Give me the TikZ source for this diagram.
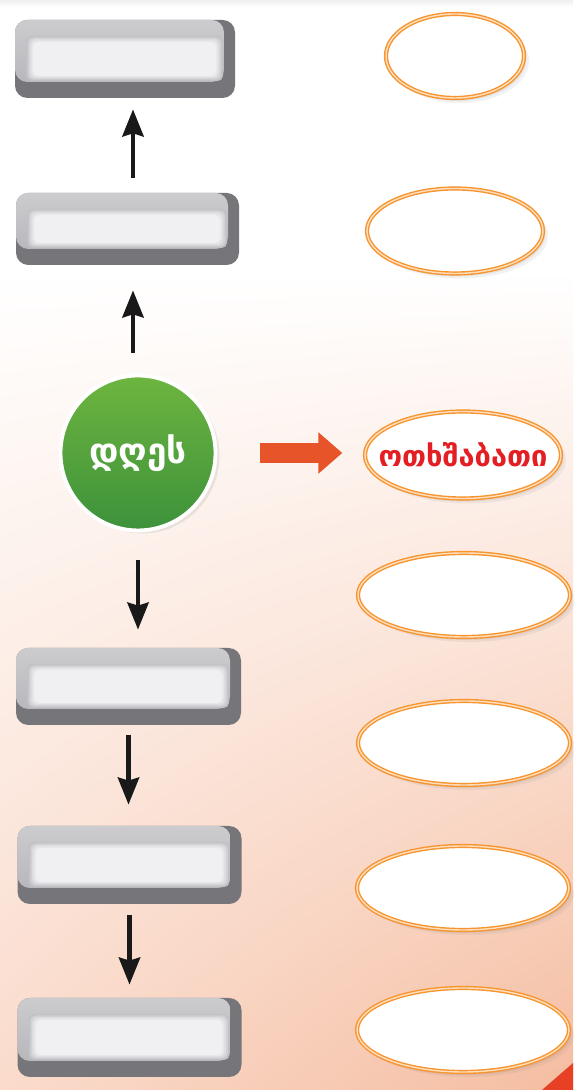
\documentclass[tikz,border=0pt]{standalone}
\usepackage{fontspec}
\newfontfamily\geofont{DejaVu Sans}
\usetikzlibrary{arrows.meta, positioning, calc, shapes.geometric, shadows, shadings}
\definecolor{BoxTop}{rgb}{0.80, 0.80, 0.81}
\definecolor{BoxMid}{rgb}{0.70, 0.70, 0.72}
\definecolor{BoxDark}{rgb}{0.46, 0.46, 0.48}
\definecolor{BoxLight}{rgb}{0.94, 0.94, 0.95}
\definecolor{OvalOrange}{rgb}{0.97, 0.58, 0.18}
\definecolor{DayGreen}{rgb}{0.43, 0.71, 0.25}
\definecolor{DayGreenDark}{rgb}{0.24, 0.57, 0.23}
\definecolor{ArrowRed}{rgb}{0.91, 0.33, 0.16}
\definecolor{WedRed}{rgb}{0.89, 0.12, 0.14}
\definecolor{PeachLight}{rgb}{0.98, 0.86, 0.80}
\definecolor{PeachDark}{rgb}{0.96, 0.74, 0.63}
\definecolor{CornerRed}{rgb}{0.91, 0.25, 0.14}

\tikzset{
  greybox/.style={rectangle, rounded corners=7pt, minimum width=4.48cm, minimum height=1.56cm,
    inner sep=0pt, fill=BoxDark,
    path picture={
      \shade[top color=BoxTop, bottom color=BoxMid]
        ($(path picture bounding box.south west)+(0,0.32)$) rectangle
        ($(path picture bounding box.north east)+(-0.22,0)$);
      \foreach \k/\c in {0/25,1/50,2/70,3/85,4/100}
        \fill[BoxLight!\c!BoxMid, rounded corners=3pt]
          ($(path picture bounding box.south west)+(0.22+0.035*\k,0.34+0.025*\k)$) rectangle
          ($(path picture bounding box.north east)+(-0.24-0.035*\k,-0.32-0.03*\k)$);
    }},
  ovalbox/.style={ellipse, minimum width=4.24cm, minimum height=1.68cm, inner sep=0pt,
    draw=OvalOrange, line width=0.8pt, double=OvalOrange!30!white, double distance=0.8pt,
    fill=white,
    drop shadow={shadow xshift=1.0mm, shadow yshift=-1.0mm, opacity=0.10},
    drop shadow={shadow xshift=0.5mm, shadow yshift=-0.6mm, opacity=0.12}},
  daynode/.style={circle, minimum size=3.1cm, inner sep=0pt, top color=DayGreen,
    bottom color=DayGreenDark, draw=white, line width=2.2pt,
    drop shadow={shadow xshift=0.8mm, shadow yshift=-0.6mm, opacity=0.15},
    text=white, font=\geofont\bfseries\fontsize{20}{24}\selectfont},
  wedlabel/.style={text=WedRed, inner sep=0pt, font=\geofont\bfseries\fontsize{16.5}{20}\selectfont},
  flowarrow/.style={black!90, line width=2.8pt, -{Stealth[length=5.4mm, width=4.2mm, inset=0.6mm]}},
  redarrow/.style={ArrowRed, line width=0.40cm, -{Triangle[length=4.8mm, width=8mm]}}
}

\begin{document}
\begin{tikzpicture}
\useasboundingbox (0,0) rectangle (11.46,21.8);

% fondo
\fill[white] (0,0) rectangle (11.46,21.8);
\shade[top color=black!6, bottom color=white] (0,21.66) rectangle (11.46,21.8);
\shade[upper left=white, upper right=white, lower left=PeachLight, lower right=PeachDark]
  (0,0) rectangle (11.46,16.4);
\fill[CornerRed] (10.84,0) -- (11.46,0.54) -- (11.46,0) -- cycle;

% cajas grises
\node[greybox, minimum width=4.40cm] (b1) at (2.50,20.62) {};
\node[greybox, minimum width=4.46cm, minimum height=1.44cm] (b2) at (2.55,17.22) {};
\node[greybox, minimum width=4.50cm, minimum height=1.54cm] (b3) at (2.57,8.07) {};
\node[greybox] (b4) at (2.59,4.50) {};
\node[greybox, minimum height=1.58cm] (b5) at (2.59,1.05) {};

% circulo
\node[daynode] (day) at (2.76,12.74) {დღეს};

% ovalos
\node[ovalbox, minimum width=2.76cm] (o1) at (9.10,20.68) {};
\node[ovalbox, minimum width=3.52cm, minimum height=1.70cm] (o2) at (9.10,17.18) {};
\node[ovalbox, minimum width=3.92cm, minimum height=1.74cm] (wed) at (9.26,12.70) {};
\node[wedlabel] (wedtext) at (wed) {ოთხშაბათი};
\node[ovalbox] (o4) at (9.28,9.90) {};
\node[ovalbox] (o5) at (9.28,6.94) {};
\node[ovalbox] (o6) at (9.26,4.04) {};
\node[ovalbox] (o7) at (9.26,1.20) {};

% flechas
\coordinate (a1s) at ([xshift=1.1mm]b2.north);
\coordinate (a2s) at ([xshift=-1mm]day.north);
\draw[flowarrow, shorten <=0.30cm, shorten >=0.22cm] (a1s) -- (a1s |- b1.south);
\draw[flowarrow, shorten <=0.42cm, shorten >=0.50cm] (a2s) -- (a2s |- b2.south);
\draw[flowarrow, shorten <=0.56cm, shorten >=0.36cm] (day.south) -- (day.south |- b3.north);
\draw[flowarrow, shorten <=0.20cm, shorten >=0.42cm] (b3.south) -- (b3.south |- b4.north);
\draw[flowarrow, shorten <=0.22cm, shorten >=0.26cm] (b4.south) -- (b4.south |- b5.north);
\draw[redarrow, shorten <=0.85cm, shorten >=0.44cm] (day.east) -- (day.east -| wed.west);

\end{tikzpicture}
\end{document}
